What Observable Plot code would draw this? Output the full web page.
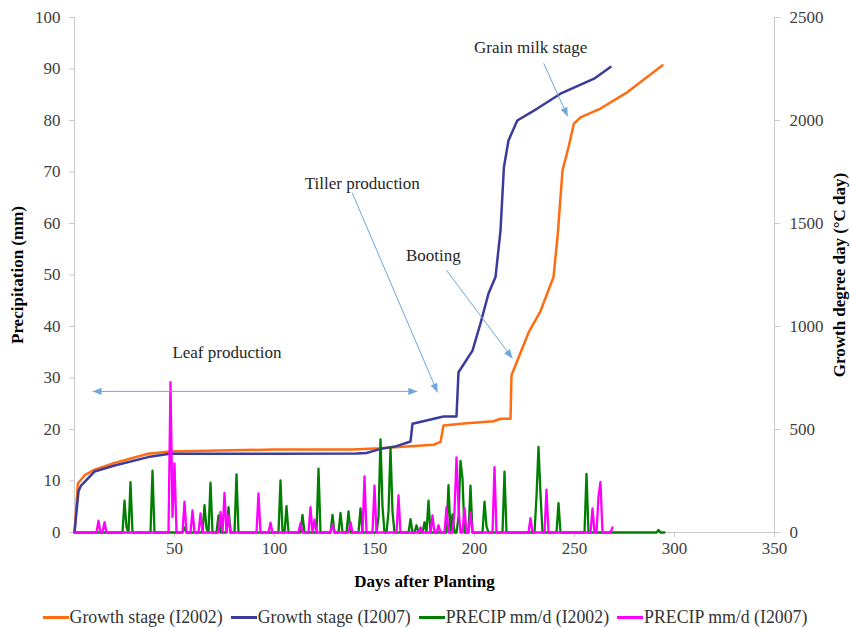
<!DOCTYPE html>
<html>
<head>
<meta charset="utf-8">
<script src="https://cdn.jsdelivr.net/npm/d3@7"></script>
<script src="https://cdn.jsdelivr.net/npm/@observablehq/plot@0.6"></script>
<style>
  body { margin: 0; background: #fff; }
  #wrap { width: 850px; height: 628px; font-family: "Liberation Serif", "Times New Roman", serif; }
  #wrap svg g[aria-label="y-axis label"], #wrap svg g[aria-label="x-axis label"] { font-weight: bold; fill: #000; }
  #legend { height: 28px; margin-top: 3px; display: flex; justify-content: center; align-items: center; font-size: 17.8px; color: #333; }
  .item { display: flex; align-items: center; margin: 0 4px; white-space: nowrap; }
  .sw { width: 26px; height: 3px; margin-right: 1px; }
</style>
</head>
<body>
<div id="wrap"></div>
<script>
// ---------- data ----------
const xTicks = [50, 100, 150, 200, 250, 300, 350];
const precipTicks = [0, 10, 20, 30, 40, 50, 60, 70, 80, 90, 100];
const gddTicks = [0, 500, 1000, 1500, 2000, 2500];
const gddPerMm = 25; // right axis 0-2500 spans the same height as left 0-100

const seriesNames = ["Growth stage (I2002)", "Growth stage (I2007)", "PRECIP mm/d (I2002)", "PRECIP mm/d (I2007)"];
const seriesColors = ["#ff6c12", "#3b3b9c", "#008000", "#ff00ff"];

// Growth degree day (°C day), I2002
const gddDays2002 = [0, 1.7, 5, 10, 20, 36.8, 47.6, 100, 139, 153, 168, 179.6, 183, 184.5, 196, 209.5, 213, 218, 218.5, 227, 233, 239.5, 241.5, 244, 247, 249.7, 253, 263, 276.5, 294];
const gdd2002 = [0, 238, 277, 305, 338, 382, 393, 403, 403, 409, 419, 426, 440, 520, 530, 540, 552, 552, 763, 970, 1075, 1240, 1433, 1758, 1870, 1985, 2015, 2058, 2138, 2268];
// Growth degree day (°C day), I2007
const gddDays2007 = [0, 2, 3.3, 10, 20, 36.8, 47.6, 100, 141, 146, 153, 161, 168, 169, 184.5, 191, 192, 199, 203, 207, 210.5, 213, 214.7, 217, 221.4, 231.4, 243, 259.8, 268];
const gdd2007 = [0, 200, 228, 296, 325, 366, 382, 382, 383, 386, 406, 419, 442, 528, 563, 563, 778, 883, 1015, 1160, 1240, 1465, 1773, 1903, 2000, 2058, 2130, 2203, 2260];

// Daily precipitation (mm/d): days with rain and their amounts; all other days are 0
const lastDay2002 = 295;
const rainDays2002 = [25, 26, 28, 39, 55, 65, 66, 68, 72, 77, 81, 103, 106, 114, 122, 129, 133, 137, 143, 152, 153, 154, 157, 158, 159, 168, 171, 175, 177, 187, 189, 192, 193, 194, 198, 205, 206, 215, 231, 232, 233, 242, 256, 292];
const rain2002 = [6.2, 1.0, 9.8, 12.0, 1.0, 5.3, 0.8, 9.7, 3.3, 4.9, 11.3, 10.1, 5.1, 3.4, 12.4, 3.4, 3.8, 4.1, 4.7, 3.0, 18.1, 5.0, 4.0, 16.5, 4.0, 2.6, 1.4, 2.0, 6.2, 9.2, 3.5, 3.0, 13.9, 10.5, 9.1, 6.0, 1.2, 11.8, 7.0, 16.6, 7.5, 5.7, 11.4, 0.5];
const lastDay2007 = 269;
const rainDays2007 = [12, 15, 48, 49, 50, 55, 59, 63, 73, 75, 77, 92, 98, 113, 118, 120, 129, 138, 145, 150, 162, 173, 179, 182, 186, 190, 191, 192, 195, 198, 210, 228, 236, 259, 262, 263, 269];
const rain2007 = [2.3, 2.0, 29.2, 3.0, 13.4, 6.0, 4.3, 3.7, 4.0, 7.7, 3.3, 7.6, 1.9, 1.8, 4.9, 2.5, 1.6, 2.0, 10.9, 9.1, 7.2, 1.0, 3.3, 1.4, 4.9, 4.0, 14.6, 5.0, 4.8, 3.9, 12.7, 2.8, 8.3, 4.7, 7.0, 9.8, 1.0];

// Annotations (in data units: day, mm)
const noteLabels = ["Leaf production", "Tiller production", "Booting", "Grain milk stage"];
const noteDays = [76.2, 143.9, 179.4, 228.1];
const noteMm = [35.0, 67.8, 53.8, 94.2];
const arrowFrom = [[138.8, 66.0], [186.0, 50.9], [234.6, 91.1]];
const arrowTo = [[181.5, 27.2], [219.0, 33.8], [246.6, 80.8]];
const leafArrow = [[9.0, 27.4], [171.4, 27.4]];

// ---------- tables built from the arrays ----------
const growth2002 = gddDays2002.map((d, i) => ({day: d, mm: gdd2002[i] / gddPerMm}));
const growth2007 = gddDays2007.map((d, i) => ({day: d, mm: gdd2007[i] / gddPerMm}));
function daily(days, vals, last) {
  const m = new Map(days.map((d, i) => [d, vals[i]]));
  return d3.range(0, last + 1).map(d => ({day: d, mm: m.get(d) ?? 0}));
}
const precip2002 = daily(rainDays2002, rain2002, lastDay2002);
const precip2007 = daily(rainDays2007, rain2007, lastDay2007);
const notes = noteLabels.map((t, i) => ({label: t, day: noteDays[i], mm: noteMm[i]}));
const arrows = arrowFrom.map((f, i) => ({x1: f[0], y1: f[1], x2: arrowTo[i][0], y2: arrowTo[i][1]}));
const leaf = [{x1: leafArrow[0][0], y1: leafArrow[0][1], x2: leafArrow[1][0], y2: leafArrow[1][1]}];

const arrowColor = "#6fa6dc";
function filledArrow(color) {
  const ns = "http://www.w3.org/2000/svg";
  const m = document.createElementNS(ns, "marker");
  m.setAttribute("viewBox", "-10 -5 10 10");
  m.setAttribute("markerWidth", 10);
  m.setAttribute("markerHeight", 10);
  m.setAttribute("markerUnits", "userSpaceOnUse");
  m.setAttribute("orient", "auto-start-reverse");
  const p = document.createElementNS(ns, "path");
  p.setAttribute("d", "M-9,-3.6L0,0L-9,3.6Z");
  p.setAttribute("fill", color);
  p.setAttribute("stroke", "none");
  m.appendChild(p);
  return m;
}

const axisGray = "#c9c9c9";
const chart = Plot.plot({
  width: 850,
  height: 600,
  marginLeft: 74,
  marginRight: 76,
  marginTop: 17,
  marginBottom: 68,
  style: {fontFamily: '"Liberation Serif", "Times New Roman", serif', fontSize: "17px", color: "#404040", background: "#fff"},
  x: {domain: [0, 350]},
  y: {domain: [0, 100]},
  marks: [
    Plot.ruleX([0, 350], {stroke: axisGray}),
    Plot.ruleY([0], {stroke: axisGray}),
    Plot.axisX(xTicks, {tickSize: 5, tickPadding: 4, stroke: axisGray, fill: "#404040",
      label: "Days after Planting", labelAnchor: "center", labelArrow: "none", labelOffset: 54}),
    Plot.axisY(precipTicks, {anchor: "left", tickSize: 5, tickPadding: 9, stroke: axisGray, fill: "#404040",
      label: "Precipitation (mm)", labelAnchor: "center", labelArrow: "none", labelOffset: 64}),
    Plot.axisY(gddTicks.map(g => g / gddPerMm), {anchor: "right", tickSize: 5, tickPadding: 10, stroke: axisGray, fill: "#404040",
      tickFormat: d => String(Math.round(d * gddPerMm)), label: "Growth degree day (°C day)", labelAnchor: "center", labelArrow: "none", labelOffset: 70}),
    Plot.line(growth2002, {x: "day", y: "mm", stroke: seriesColors[0], strokeWidth: 2.5}),
    Plot.line(growth2007, {x: "day", y: "mm", stroke: seriesColors[1], strokeWidth: 2.5}),
    Plot.line(precip2002, {x: "day", y: "mm", stroke: seriesColors[2], strokeWidth: 2.3}),
    Plot.line(precip2007, {x: "day", y: "mm", stroke: seriesColors[3], strokeWidth: 2.3}),
    Plot.link(arrows, {x1: "x1", y1: "y1", x2: "x2", y2: "y2", stroke: arrowColor, strokeWidth: 1, markerEnd: filledArrow}),
    Plot.link(leaf, {x1: "x1", y1: "y1", x2: "x2", y2: "y2", stroke: arrowColor, strokeWidth: 1, markerStart: filledArrow, markerEnd: filledArrow}),
    Plot.text(notes, {x: "day", y: "mm", text: "label", fill: "#262626", fontSize: 17})
  ]
});
const wrap = document.getElementById("wrap");
wrap.appendChild(chart);
const legend = document.createElement("div");
legend.id = "legend";
seriesNames.forEach((n, i) => {
  const it = document.createElement("div");
  it.className = "item";
  const sw = document.createElement("div");
  sw.className = "sw";
  sw.style.background = seriesColors[i];
  const tx = document.createElement("span");
  tx.textContent = n;
  it.appendChild(sw); it.appendChild(tx);
  legend.appendChild(it);
});
wrap.appendChild(legend);
</script>
</body>
</html>
